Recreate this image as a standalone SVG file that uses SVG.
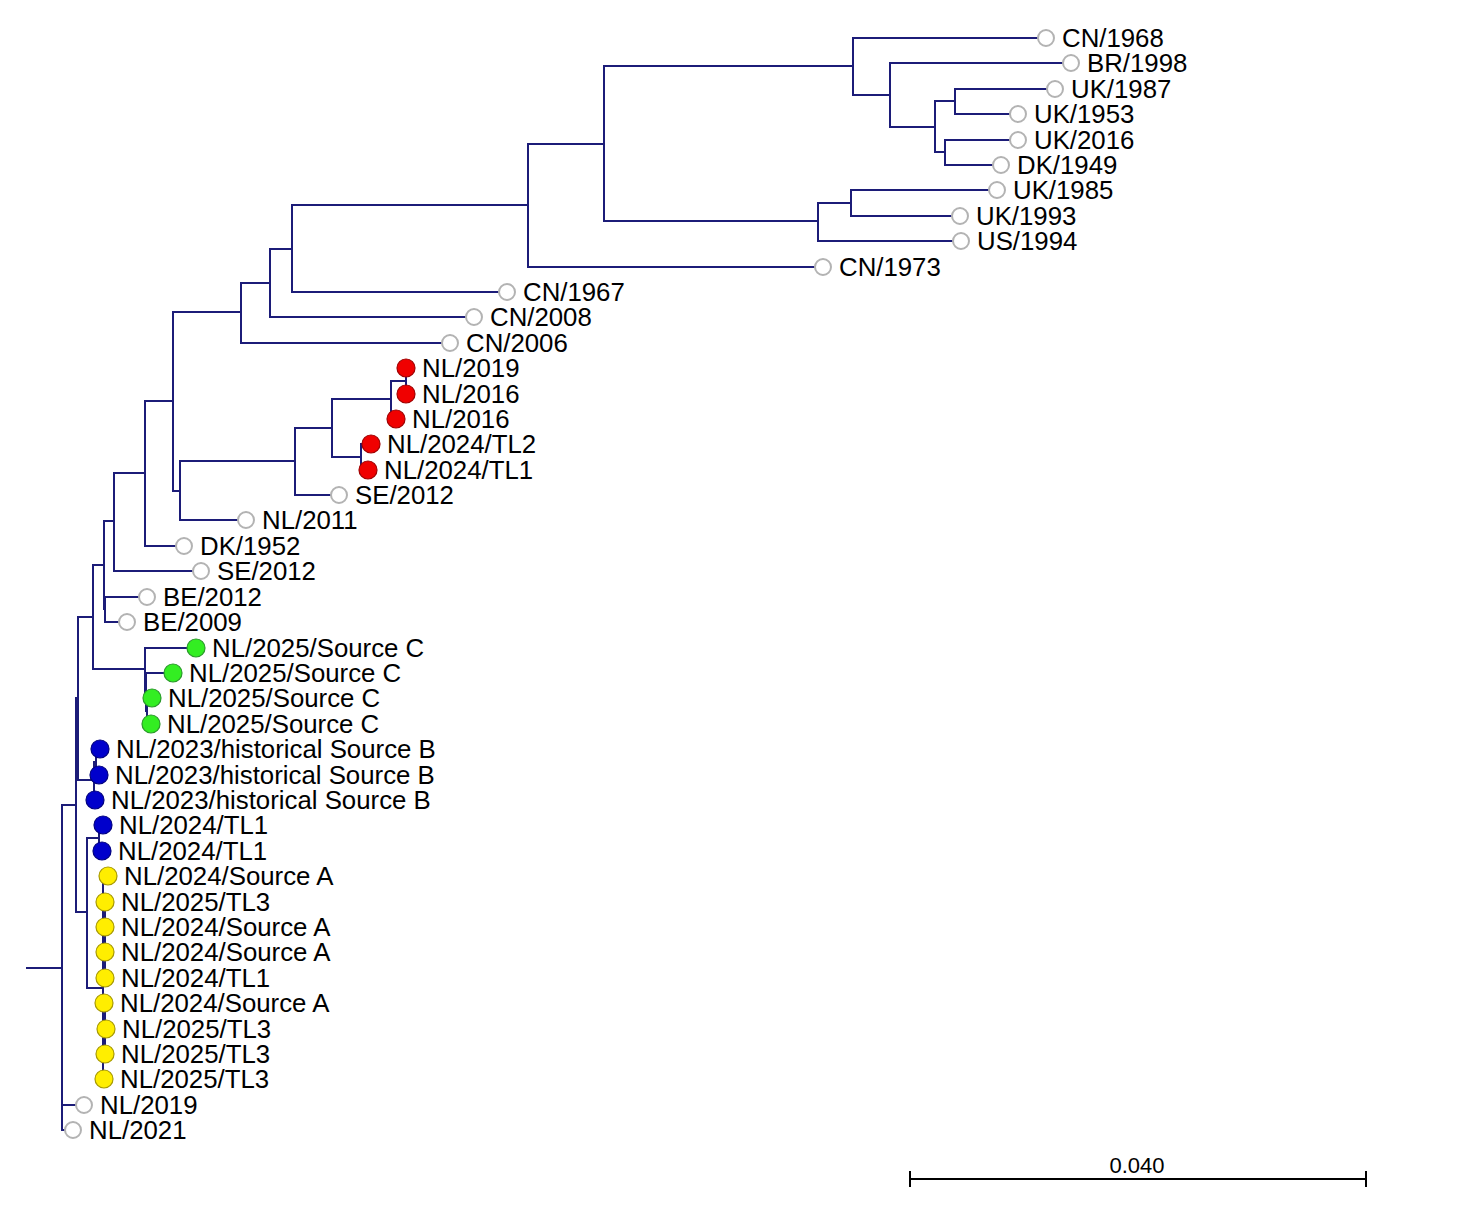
<svg xmlns="http://www.w3.org/2000/svg" width="1479" height="1221" viewBox="0 0 1479 1221">
<style>
.br{fill:none;stroke:#1c1c78;stroke-width:2;stroke-linecap:square}
.g{fill:#ffffff;stroke:#b3b3b3;stroke-width:2}
.r{fill:#f00000;stroke:#a00000;stroke-width:1.2}
.gr{fill:#33ee22;stroke:#2a9a2a;stroke-width:1.2}
.b{fill:#0000cc;stroke:#000080;stroke-width:1.2}
.y{fill:#ffee00;stroke:#a89a00;stroke-width:1.2}
text{font-family:"Liberation Sans",Arial,sans-serif;font-size:25.8px;fill:#000}
.sc{font-size:22px}
</style>
<rect width="1479" height="1221" fill="#ffffff"/>
<g id="connectors" class="br">
<path d="M27,968H62 M62,805V1130 M62,805H76 M62,1105H76 M62,1130H65
M76,698V912 M76,698H78 M76,912H87
M78,617V780 M78,617H93 M78,780H94
M93,565V669 M93,565H104 M93,669H145
M104,521V609 M104,521H114 M104,609H105
M105,597V622 M105,597H139 M105,622H119
M114,473V571 M114,473H145 M114,571H193
M145,401V546 M145,401H173 M145,546H176
M173,312V491 M173,312H241 M173,491H180
M180,461V520 M180,461H295 M180,520H238
M295,428V495 M295,428H332 M295,495H331
M332,399V457 M332,399H391 M332,457H361
M391,381V419 M391,381H406
M406,368V394
M361,444V470
M241,283V343 M241,283H270 M241,343H442
M270,249V317 M270,249H292 M270,317H466
M292,205V292 M292,205H528 M292,292H499
M528,144V267 M528,144H604 M528,267H815
M604,66V221 M604,66H853 M604,221H818
M853,38V95 M853,38H1038 M853,95H890
M890,63V127 M890,63H1063 M890,127H935
M935,101V152 M935,101H955 M935,152H945
M955,89V114 M955,89H1047 M955,114H1010
M945,140V165 M945,140H1010 M945,165H993
M818,203V241 M818,203H851 M818,241H953
M851,190V216 M851,190H989 M851,216H952
M145,648V692 M145,648H187 M145,692H146
M146,673V711 M146,673H164
M147,698V724
M94,762V800 M94,762H96
M96,749V775
M87,838V988 M87,838H99 M87,988H103
M99,825V851
M103,876V1079 M105,905V975 M105,1010V1050"/>
</g>
<g id="scalebar">
<path d="M910,1179H1366 M910,1171V1187 M1366,1171V1187" fill="none" stroke="#000" stroke-width="2"/>
<text class="sc" x="1137" y="1173" text-anchor="middle">0.040</text>
</g>
<g id="leaf-CN1968"><circle class="g" cx="1046" cy="38" r="8"/><text x="1062" y="47">CN/1968</text></g>
<g id="leaf-BR1998"><circle class="g" cx="1071" cy="63" r="8"/><text x="1087" y="72">BR/1998</text></g>
<g id="leaf-UK1987"><circle class="g" cx="1055" cy="89" r="8"/><text x="1071" y="98">UK/1987</text></g>
<g id="leaf-UK1953"><circle class="g" cx="1018" cy="114" r="8"/><text x="1034" y="123">UK/1953</text></g>
<g id="leaf-UK2016"><circle class="g" cx="1018" cy="140" r="8"/><text x="1034" y="149">UK/2016</text></g>
<g id="leaf-DK1949"><circle class="g" cx="1001" cy="165" r="8"/><text x="1017" y="174">DK/1949</text></g>
<g id="leaf-UK1985"><circle class="g" cx="997" cy="190" r="8"/><text x="1013" y="199">UK/1985</text></g>
<g id="leaf-UK1993"><circle class="g" cx="960" cy="216" r="8"/><text x="976" y="225">UK/1993</text></g>
<g id="leaf-US1994"><circle class="g" cx="961" cy="241" r="8"/><text x="977" y="250">US/1994</text></g>
<g id="leaf-CN1973"><circle class="g" cx="823" cy="267" r="8"/><text x="839" y="276">CN/1973</text></g>
<g id="leaf-CN1967"><circle class="g" cx="507" cy="292" r="8"/><text x="523" y="301">CN/1967</text></g>
<g id="leaf-CN2008"><circle class="g" cx="474" cy="317" r="8"/><text x="490" y="326">CN/2008</text></g>
<g id="leaf-CN2006"><circle class="g" cx="450" cy="343" r="8"/><text x="466" y="352">CN/2006</text></g>
<g id="leaf-NL2019r"><circle class="r" cx="406" cy="368" r="9"/><text x="422" y="377">NL/2019</text></g>
<g id="leaf-NL2016r1"><circle class="r" cx="406" cy="394" r="9"/><text x="422" y="403">NL/2016</text></g>
<g id="leaf-NL2016r2"><circle class="r" cx="396" cy="419" r="9"/><text x="412" y="428">NL/2016</text></g>
<g id="leaf-NL2024TL2"><circle class="r" cx="371" cy="444" r="9"/><text x="387" y="453">NL/2024/TL2</text></g>
<g id="leaf-NL2024TL1r"><circle class="r" cx="368" cy="470" r="9"/><text x="384" y="479">NL/2024/TL1</text></g>
<g id="leaf-SE2012a"><circle class="g" cx="339" cy="495" r="8"/><text x="355" y="504">SE/2012</text></g>
<g id="leaf-NL2011"><circle class="g" cx="246" cy="520" r="8"/><text x="262" y="529">NL/2011</text></g>
<g id="leaf-DK1952"><circle class="g" cx="184" cy="546" r="8"/><text x="200" y="555">DK/1952</text></g>
<g id="leaf-SE2012b"><circle class="g" cx="201" cy="571" r="8"/><text x="217" y="580">SE/2012</text></g>
<g id="leaf-BE2012"><circle class="g" cx="147" cy="597" r="8"/><text x="163" y="606">BE/2012</text></g>
<g id="leaf-BE2009"><circle class="g" cx="127" cy="622" r="8"/><text x="143" y="631">BE/2009</text></g>
<g id="leaf-C1"><circle class="gr" cx="196" cy="648" r="9"/><text x="212" y="657">NL/2025/Source C</text></g>
<g id="leaf-C2"><circle class="gr" cx="173" cy="673" r="9"/><text x="189" y="682">NL/2025/Source C</text></g>
<g id="leaf-C3"><circle class="gr" cx="152" cy="698" r="9"/><text x="168" y="707">NL/2025/Source C</text></g>
<g id="leaf-C4"><circle class="gr" cx="151" cy="724" r="9"/><text x="167" y="733">NL/2025/Source C</text></g>
<g id="leaf-B1"><circle class="b" cx="100" cy="749" r="9"/><text x="116" y="758">NL/2023/historical Source B</text></g>
<g id="leaf-B2"><circle class="b" cx="99" cy="775" r="9"/><text x="115" y="784">NL/2023/historical Source B</text></g>
<g id="leaf-B3"><circle class="b" cx="95" cy="800" r="9"/><text x="111" y="809">NL/2023/historical Source B</text></g>
<g id="leaf-TL1b1"><circle class="b" cx="103" cy="825" r="9"/><text x="119" y="834">NL/2024/TL1</text></g>
<g id="leaf-TL1b2"><circle class="b" cx="102" cy="851" r="9"/><text x="118" y="860">NL/2024/TL1</text></g>
<g id="leaf-Y1"><circle class="y" cx="108" cy="876" r="9"/><text x="124" y="885">NL/2024/Source A</text></g>
<g id="leaf-Y2"><circle class="y" cx="105" cy="902" r="9"/><text x="121" y="911">NL/2025/TL3</text></g>
<g id="leaf-Y3"><circle class="y" cx="105" cy="927" r="9"/><text x="121" y="936">NL/2024/Source A</text></g>
<g id="leaf-Y4"><circle class="y" cx="105" cy="952" r="9"/><text x="121" y="961">NL/2024/Source A</text></g>
<g id="leaf-Y5"><circle class="y" cx="105" cy="978" r="9"/><text x="121" y="987">NL/2024/TL1</text></g>
<g id="leaf-Y6"><circle class="y" cx="104" cy="1003" r="9"/><text x="120" y="1012">NL/2024/Source A</text></g>
<g id="leaf-Y7"><circle class="y" cx="106" cy="1029" r="9"/><text x="122" y="1038">NL/2025/TL3</text></g>
<g id="leaf-Y8"><circle class="y" cx="105" cy="1054" r="9"/><text x="121" y="1063">NL/2025/TL3</text></g>
<g id="leaf-Y9"><circle class="y" cx="104" cy="1079" r="9"/><text x="120" y="1088">NL/2025/TL3</text></g>
<g id="leaf-NL2019"><circle class="g" cx="84" cy="1105" r="8"/><text x="100" y="1114">NL/2019</text></g>
<g id="leaf-NL2021"><circle class="g" cx="73" cy="1130" r="8"/><text x="89" y="1139">NL/2021</text></g>
</svg>
